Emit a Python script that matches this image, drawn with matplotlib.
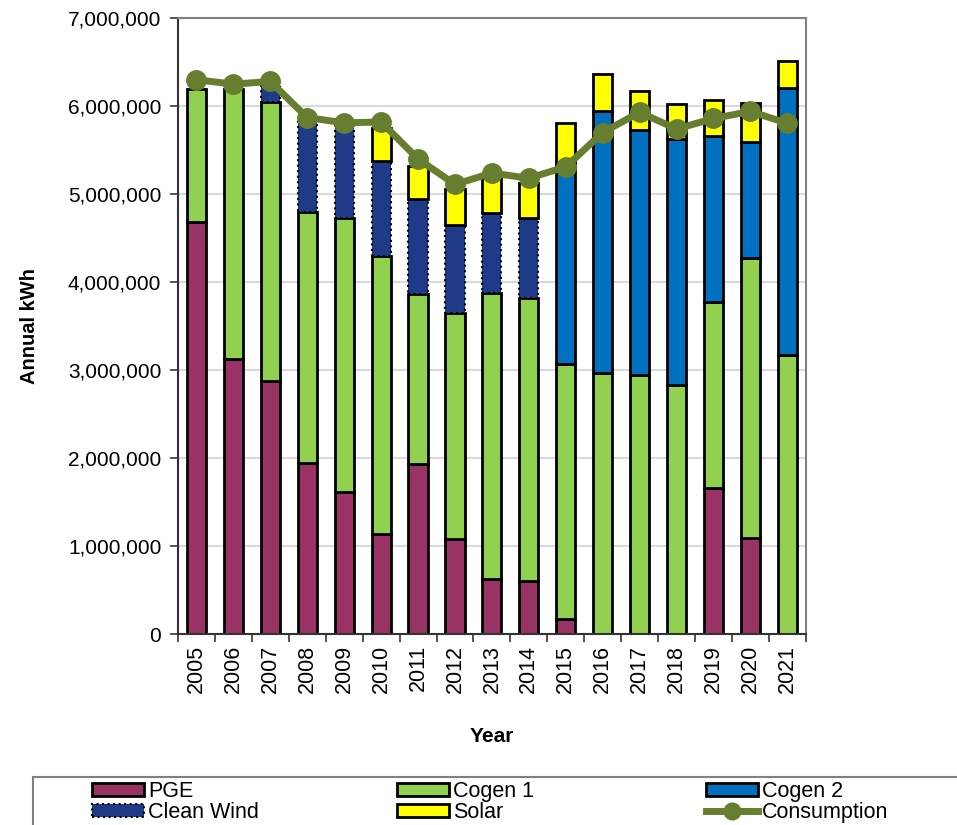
import matplotlib.pyplot as plt
import numpy as np
from matplotlib.patches import Patch, Rectangle
from matplotlib.lines import Line2D

plt.rcParams['font.family'] = ['Liberation Sans', 'DejaVu Sans']

years = ['2005', '2006', '2007', '2008', '2009', '2010', '2011', '2012', '2013',
         '2014', '2015', '2016', '2017', '2018', '2019', '2020', '2021']

# annual kWh by source
pge = [4680000, 3130000, 2875000, 1940000, 1610000, 1135000, 1935000, 1080000, 630000,
       605000, 165000, 0, 0, 0, 1660000, 1087000, 0]
cogen1 = [1520000, 3070000, 3170000, 2860000, 3117000, 3163000, 1934000, 2573000, 3250000,
          3218000, 2900000, 2970000, 2940000, 2830000, 2115000, 3183000, 3167000]
clean_wind = [0, 0, 225000, 1050000, 1073000, 1077000, 1081000, 997000, 905000,
              902000, 0, 0, 0, 0, 0, 0, 0]
cogen2 = [0, 0, 0, 0, 0, 0, 0, 0, 0,
          0, 2235000, 2970000, 2790000, 2795000, 1880000, 1320000, 3043000]
solar = [0, 0, 0, 0, 0, 375000, 370000, 410000, 395000,
         405000, 505000, 420000, 440000, 395000, 420000, 440000, 300000]
consumption = [6300000, 6250000, 6280000, 5870000, 5810000, 5820000, 5400000, 5110000, 5240000,
               5180000, 5310000, 5700000, 5930000, 5740000, 5860000, 5940000, 5805000]

c_pge, c_c1, c_c2, c_cw, c_sol, c_line = '#993366', '#92D050', '#0070C0', '#1F3A87', '#FFFF00', '#677E31'

x = np.arange(len(years))
w = 0.52

fig = plt.figure(figsize=(9.57, 8.25), dpi=100)
ax = fig.add_axes([0.186, 0.2315, 0.656, 0.7465])

bottom = np.zeros(len(years))
h_pge = ax.bar(x, pge, w, bottom=bottom, color=c_pge, edgecolor='black', linewidth=2, zorder=2)
bottom += pge
h_c1 = ax.bar(x, cogen1, w, bottom=bottom, color=c_c1, edgecolor='black', linewidth=2, zorder=2)
bottom += cogen1
h_c2 = ax.bar(x, cogen2, w, bottom=bottom, color=c_c2, edgecolor='black', linewidth=2, zorder=2)
bottom += cogen2
h_cw = ax.bar(x, clean_wind, w, bottom=bottom, color=c_cw, edgecolor='black', linewidth=1.5,
              linestyle=':', zorder=2)
bottom += clean_wind
h_sol = ax.bar(x, solar, w, bottom=bottom, color=c_sol, edgecolor='black', linewidth=2, zorder=2)

# hide zero-height segments
for cont, vals in [(h_pge, pge), (h_c2, cogen2), (h_cw, clean_wind), (h_sol, solar)]:
    for p, v in zip(cont.patches, vals):
        if v == 0:
            p.set_visible(False)

ax.plot(x, consumption, color=c_line, linewidth=5, marker='o', markersize=14, zorder=3)

ax.set_xlim(-0.5, 16.5)
ax.set_ylim(0, 7000000)
ax.set_yticks(np.arange(0, 7000001, 1000000))
ax.set_yticklabels(['{:,}'.format(v) for v in range(0, 7000001, 1000000)], fontsize=15)
ax.set_xticks(x)
ax.set_xticklabels(years, rotation=90, fontsize=15.5)
ax.set_xticks(np.arange(-0.5, 16.6, 1), minor=True)
ax.tick_params(axis='x', which='major', length=0, pad=8)
ax.tick_params(axis='x', which='minor', length=6, width=1.2, color='#333333', direction='out')
ax.tick_params(axis='y', length=6, width=1.2, color='#333333', direction='out', pad=6)

ax.grid(axis='y', color='#D9D9D9', linewidth=1.5, zorder=0)
ax.set_axisbelow(True)
for s in ['left', 'bottom']:
    ax.spines[s].set_color('#333333')
    ax.spines[s].set_linewidth(1.5)
for s in ['top', 'right']:
    ax.spines[s].set_color('#808080')
    ax.spines[s].set_linewidth(1.5)

ax.set_ylabel('Annual kWh', fontsize=14.5, fontweight='bold')
ax.yaxis.set_label_coords(-0.221, 0.5)
ax.set_xlabel('Year', fontsize=15, fontweight='bold')
ax.xaxis.set_label_coords(0.5, -0.151)

# legend: frame runs past the right and bottom edges of the figure
fig.patches.append(Rectangle((33 / 957, -0.02), 1.0, (825 - 777) / 825 + 0.02,
                             transform=fig.transFigure, facecolor='white',
                             edgecolor='#808080', linewidth=1.5, zorder=0))

def bar_handle(color, ls='-', lw=2):
    return Patch(facecolor=color, edgecolor='black', linewidth=lw, linestyle=ls)

columns = [
    (92, [bar_handle(c_pge), bar_handle(c_cw, ':', 1.5)], ['PGE', 'Clean Wind']),
    (397, [bar_handle(c_c1), bar_handle(c_sol)], ['Cogen 1', 'Solar']),
    (706, [bar_handle(c_c2), Line2D([], [], color=c_line, linewidth=5, marker='o', markersize=12)],
     ['Cogen 2', 'Consumption']),
]
for xpx, hs, ls in columns:
    leg = fig.legend(hs, ls, loc='center left', bbox_to_anchor=(xpx / 957, (825 - 802) / 825),
                     fontsize=15.5, frameon=False, handlelength=2.4, handleheight=0.55,
                     handletextpad=0.2, labelspacing=0.0, borderpad=0, borderaxespad=0)

fig.savefig('out.png', dpi=100)
